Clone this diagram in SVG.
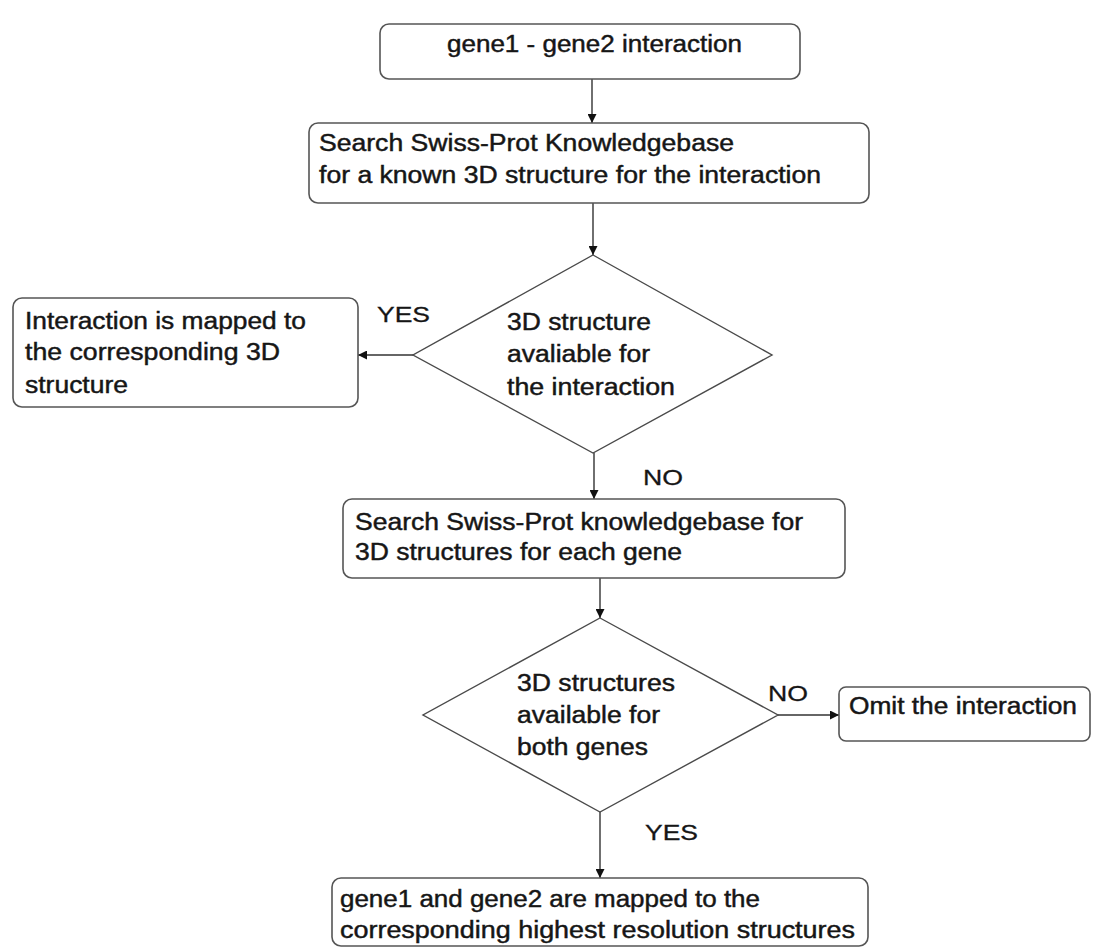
<svg xmlns="http://www.w3.org/2000/svg" width="1093" height="952" viewBox="0 0 1093 952">
<style>
.box{fill:#fff;stroke:#555;stroke-width:1.6}
.dia{fill:#fff;stroke:#4a4a4a;stroke-width:1.4}
.t{font-family:"Liberation Sans",Arial,sans-serif;font-size:23px;fill:#161616;stroke:#161616;stroke-width:0.45}
.lbl{font-family:"Liberation Sans",Arial,sans-serif;font-size:22px;fill:#161616;stroke:#161616;stroke-width:0.3}
.con{fill:none;stroke:#333;stroke-width:1.4}
</style>
<defs>
<marker id="ah" viewBox="0 0 10 10" refX="10" refY="5" markerWidth="9" markerHeight="9" markerUnits="userSpaceOnUse" orient="auto">
<path d="M0,0 L10,5 L0,10 z" fill="#111"/>
</marker>
</defs>
<rect width="1093" height="952" fill="#fff"/>
<g id="connectors">
<path class="con" d="M592,79 V123" marker-end="url(#ah)"/>
<path class="con" d="M593,203 V255" marker-end="url(#ah)"/>
<path class="con" d="M413,355 H358" marker-end="url(#ah)"/>
<path class="con" d="M594,453 V499" marker-end="url(#ah)"/>
<path class="con" d="M600,578 V618" marker-end="url(#ah)"/>
<path class="con" d="M778,715 H839" marker-end="url(#ah)"/>
<path class="con" d="M600,812 V878" marker-end="url(#ah)"/>
<text class="lbl" x="377" y="322" textLength="53" lengthAdjust="spacingAndGlyphs">YES</text>
<text class="lbl" x="643" y="485" textLength="40" lengthAdjust="spacingAndGlyphs">NO</text>
<text class="lbl" x="768" y="701" textLength="40" lengthAdjust="spacingAndGlyphs">NO</text>
<text class="lbl" x="645" y="840" textLength="53" lengthAdjust="spacingAndGlyphs">YES</text>
</g>
<g id="start">
<rect class="box" x="380" y="24" width="420" height="55" rx="9"/>
<text class="t" x="447" y="52" textLength="295" lengthAdjust="spacingAndGlyphs">gene1 - gene2 interaction</text>
</g>
<g id="search1">
<rect class="box" x="309" y="123" width="560" height="80" rx="9"/>
<text class="t" x="319" y="151" textLength="415" lengthAdjust="spacingAndGlyphs">Search Swiss-Prot Knowledgebase</text>
<text class="t" x="319" y="183" textLength="502" lengthAdjust="spacingAndGlyphs">for a known 3D structure for the interaction</text>
</g>
<g id="decision1">
<polygon class="dia" points="593,255 772,355 593,453 413,355"/>
<text class="t" x="507" y="330" textLength="144" lengthAdjust="spacingAndGlyphs">3D structure</text>
<text class="t" x="507" y="362" textLength="143" lengthAdjust="spacingAndGlyphs">avaliable for</text>
<text class="t" x="507" y="395" textLength="168" lengthAdjust="spacingAndGlyphs">the interaction</text>
</g>
<g id="mapped">
<rect class="box" x="13" y="298" width="345" height="109" rx="9"/>
<text class="t" x="25" y="329" textLength="281" lengthAdjust="spacingAndGlyphs">Interaction is mapped to</text>
<text class="t" x="25" y="360" textLength="255" lengthAdjust="spacingAndGlyphs">the corresponding 3D</text>
<text class="t" x="25" y="393" textLength="103" lengthAdjust="spacingAndGlyphs">structure</text>
</g>
<g id="search2">
<rect class="box" x="343" y="499" width="502" height="79" rx="9"/>
<text class="t" x="355" y="530" textLength="448" lengthAdjust="spacingAndGlyphs">Search Swiss-Prot knowledgebase for</text>
<text class="t" x="355" y="560" textLength="327" lengthAdjust="spacingAndGlyphs">3D structures for each gene</text>
</g>
<g id="decision2">
<polygon class="dia" points="600,618 778,715 600,812 423,715"/>
<text class="t" x="517" y="691" textLength="158" lengthAdjust="spacingAndGlyphs">3D structures</text>
<text class="t" x="517" y="723" textLength="143" lengthAdjust="spacingAndGlyphs">available for</text>
<text class="t" x="517" y="755" textLength="131" lengthAdjust="spacingAndGlyphs">both genes</text>
</g>
<g id="omit">
<rect class="box" x="839" y="687" width="251" height="54" rx="7"/>
<text class="t" x="849" y="714" textLength="228" lengthAdjust="spacingAndGlyphs">Omit the interaction</text>
</g>
<g id="result">
<rect class="box" x="332" y="878" width="536" height="68" rx="9"/>
<text class="t" x="340" y="907" textLength="420" lengthAdjust="spacingAndGlyphs">gene1 and gene2 are mapped to the</text>
<text class="t" x="340" y="938" textLength="515" lengthAdjust="spacingAndGlyphs">corresponding highest resolution structures</text>
</g>
</svg>
